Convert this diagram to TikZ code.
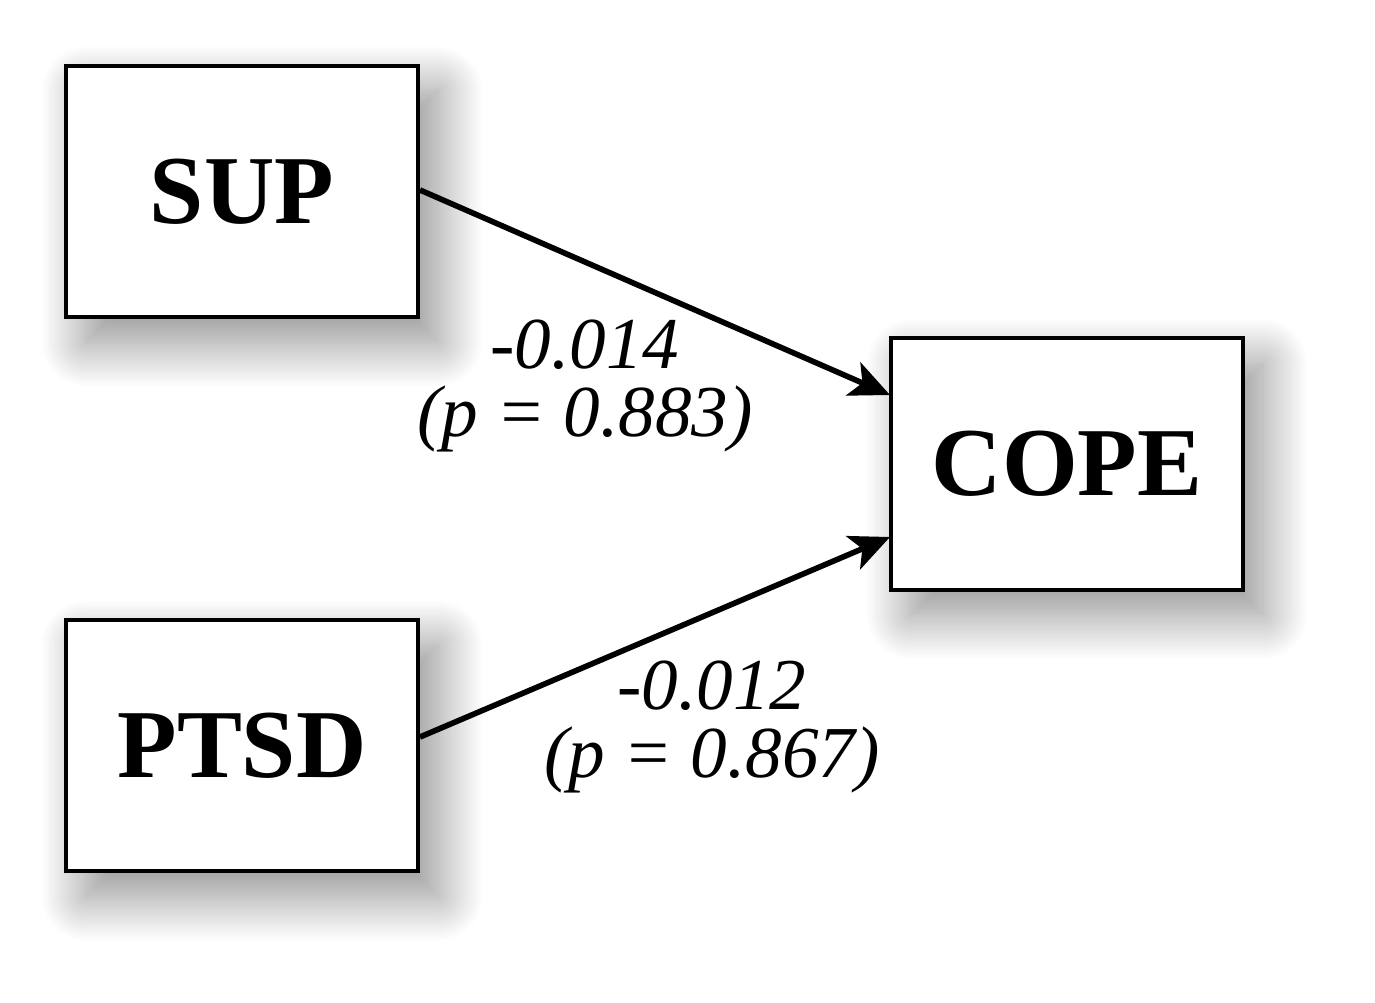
\documentclass[tikz,border=0pt]{standalone}
\usepackage{fontspec}
\setmainfont{Liberation Serif}
\usetikzlibrary{shadows.blur,arrows.meta}
\begin{document}
\begin{tikzpicture}[x=0.01cm,y=-0.01cm,
  varbox/.style={draw=black,line width=1.1pt,fill=white,minimum width=3.52cm,minimum height=2.51cm,inner sep=0pt,
    font=\fontsize{27.7}{30}\selectfont\bfseries,
    blur shadow={shadow xshift=0.2cm,shadow yshift=-0.25cm,shadow blur radius=0.45cm,shadow blur steps=40,shadow opacity=45}},
  path/.style={line width=1.6pt,-{Stealth[length=0.4cm,width=0.36cm,inset=0.1cm]}},
  coef/.style={font=\fontsize{20.8}{19.5}\selectfont\itshape,align=center,inner sep=0pt}]
\useasboundingbox (0,0) rectangle (1375,1003);
\node[varbox] (sup) at (242,191.5) {SUP};
\node[varbox] (cope) at (1067,464) {COPE};
\node[varbox] (ptsd) at (242,745.5) {PTSD};
\coordinate (supout) at (420,190);
\coordinate (copein1) at (890,395);
\coordinate (ptsdout) at (420,737);
\coordinate (copein2) at (890,537);
\draw[path] (supout) -- (copein1);
\draw[path] (ptsdout) -- (copein2);
\node[coef] (c1) at (585,386) {-0.014\\(p = 0.883)};
\node[coef] (c2) at (712,727) {-0.012\\(p = 0.867)};
\end{tikzpicture}
\end{document}
